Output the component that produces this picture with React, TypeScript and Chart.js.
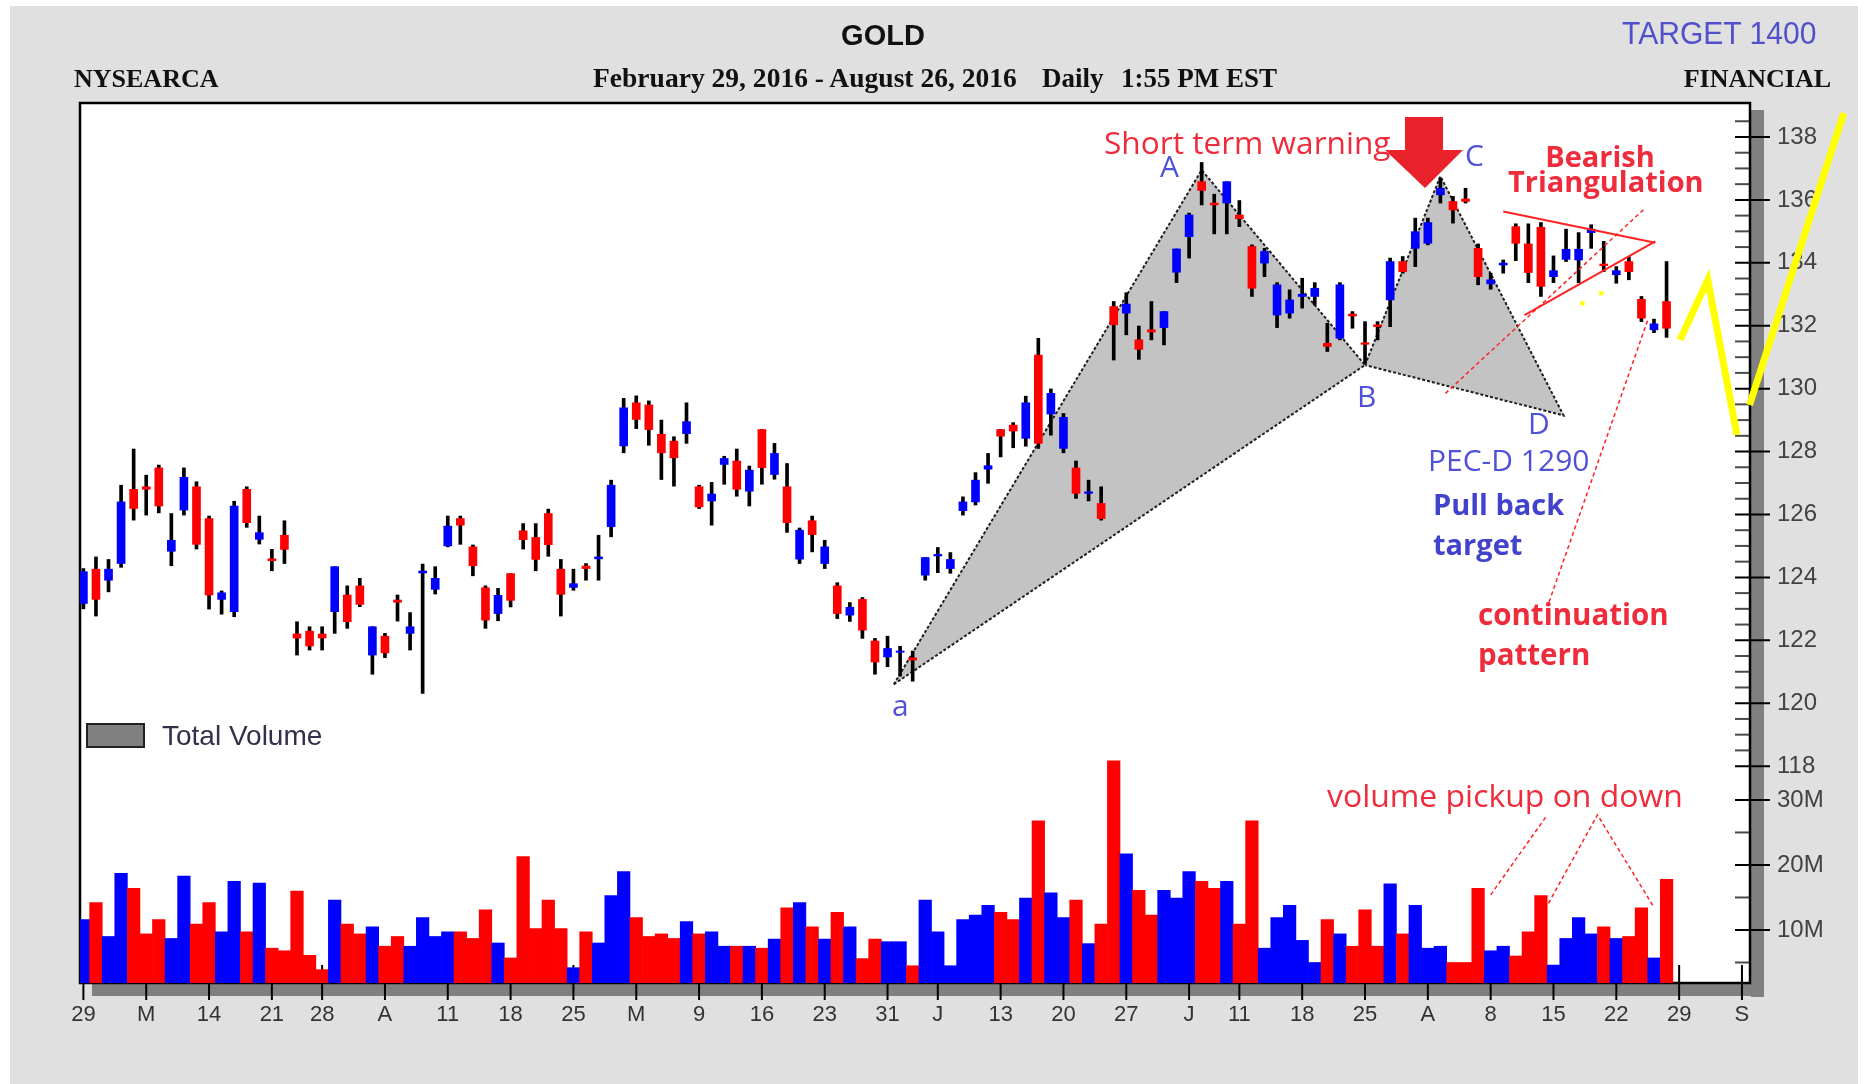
import React, { useEffect, useRef } from "react";
import { Chart, registerables } from "chart.js";

Chart.register(...registerables);

const W = 1868;
const H = 1084;

// ---- daily candles (Feb 29 .. Aug 26, 2016), index = trading day ----
const opens = [
  123.17, 124.26, 123.91, 124.44, 126.8, 126.88, 127.48, 124.83, 126.14, 126.88,
  125.87, 123.3, 122.91, 126.8, 125.21, 124.59, 125.34, 122.2, 122.29, 122.2,
  122.91, 123.44, 123.73, 121.53, 122.13, 123.28, 122.22, 124.14, 123.62, 125.0,
  125.87, 124.97, 123.67, 122.85, 124.12, 125.48, 125.27, 126.03, 124.26, 123.68,
  124.36, 124.59, 125.61, 128.18, 129.55, 129.48, 128.55, 128.33, 128.57, 126.88,
  126.43, 127.59, 127.7, 126.74, 128.7, 127.27, 126.88, 124.58, 125.8, 124.44,
  123.73, 122.8, 123.3, 121.98, 121.47, 121.62, 121.44, 124.07, 124.68, 124.28,
  126.12, 126.4, 127.44, 128.7, 128.84, 128.42, 131.07, 129.19, 128.1, 127.48,
  126.67, 126.35, 132.61, 132.4, 131.55, 131.87, 131.94, 133.7, 134.83, 136.58,
  135.9, 135.9, 135.52, 134.52, 133.99, 132.34, 132.4, 132.93, 132.93, 131.44,
  131.6, 132.37, 131.46, 132.03, 132.82, 134.04, 134.46, 134.62, 136.16, 135.95,
  136.03, 134.46, 133.33, 133.93, 135.15, 134.6, 135.13, 133.56, 134.11, 134.09,
  134.96, 133.96, 133.62, 134.04, 132.84, 131.87, 132.77,
];
const highs = [
  124.28, 124.65, 124.57, 126.93, 128.08, 127.25, 127.57, 126.03, 127.48, 127.04,
  125.95, 123.57, 126.42, 126.88, 125.95, 124.89, 125.8, 122.59, 122.43, 122.43,
  124.34, 123.73, 123.97, 122.43, 122.22, 123.44, 122.88, 124.42, 124.34, 125.95,
  125.95, 125.03, 123.73, 123.65, 124.12, 125.71, 125.71, 126.17, 124.57, 124.26,
  124.44, 125.34, 127.09, 129.69, 129.77, 129.61, 129.0, 128.47, 129.55, 126.93,
  127.02, 127.85, 128.08, 127.54, 128.7, 128.26, 127.62, 125.57, 125.95, 125.18,
  123.83, 123.2, 123.36, 122.06, 122.13, 121.81, 121.66, 124.63, 124.95, 124.79,
  126.56, 127.33, 127.94, 128.7, 128.92, 129.76, 131.6, 129.99, 129.21, 127.7,
  127.09, 126.88, 132.77, 133.05, 131.99, 132.77, 132.45, 134.44, 135.58, 137.19,
  136.18, 136.58, 135.98, 134.57, 134.46, 133.37, 133.14, 133.51, 133.37, 132.08,
  133.37, 132.45, 132.13, 132.13, 134.15, 134.2, 135.42, 135.42, 136.69, 136.11,
  136.37, 134.6, 133.67, 134.09, 135.24, 135.24, 135.28, 134.22, 135.07, 134.96,
  135.21, 134.68, 133.88, 134.2, 132.93, 132.21, 134.04,
];
const lows = [
  123.0, 122.77, 123.54, 124.32, 125.82, 125.98, 126.05, 124.37, 125.98, 124.9,
  122.99, 122.83, 122.75, 125.59, 125.06, 124.21, 124.44, 121.53, 121.69, 121.69,
  122.22, 122.38, 123.07, 120.92, 121.45, 122.61, 121.69, 120.31, 123.47, 124.97,
  125.05, 124.05, 122.38, 122.62, 123.06, 124.9, 124.21, 124.67, 122.77, 123.59,
  123.91, 123.91, 125.29, 127.96, 128.73, 128.2, 127.11, 126.9, 128.26, 126.19,
  125.66, 126.96, 126.58, 126.27, 126.96, 127.12, 125.43, 124.44, 124.81, 124.28,
  122.69, 122.6, 122.06, 120.92, 121.16, 120.86, 120.7, 123.91, 124.15, 124.13,
  125.98, 126.3, 126.99, 127.83, 128.12, 128.17, 128.1, 128.52, 127.96, 126.51,
  126.43, 125.82, 130.91, 131.71, 130.93, 131.55, 131.39, 133.37, 134.15, 135.84,
  134.92, 134.92, 135.15, 132.93, 133.56, 131.94, 132.24, 132.56, 132.66, 131.18,
  131.55, 131.92, 130.81, 131.55, 131.97, 133.67, 133.88, 134.57, 135.9, 135.26,
  135.9, 133.3, 133.16, 133.67, 134.07, 133.37, 132.93, 133.37, 134.04, 133.37,
  134.46, 133.72, 133.35, 133.46, 132.13, 131.78, 131.63,
];
const closes = [
  124.18, 123.3, 124.26, 126.4, 126.19, 126.8, 126.27, 125.18, 127.18, 125.05,
  123.44, 123.51, 126.27, 125.74, 125.42, 124.53, 124.89, 122.07, 121.82, 122.07,
  124.34, 122.59, 123.14, 122.43, 121.6, 123.21, 122.43, 124.2, 123.97, 125.63,
  125.66, 124.37, 122.64, 123.43, 123.27, 125.2, 124.57, 125.04, 123.46, 123.8,
  124.28, 124.65, 126.93, 129.39, 129.02, 128.7, 127.96, 127.8, 128.95, 126.24,
  126.65, 127.78, 126.8, 127.41, 127.49, 127.94, 125.74, 125.5, 125.36, 124.97,
  122.85, 123.05, 122.32, 121.31, 121.74, 121.66, 121.37, 124.63, 124.73, 124.57,
  126.4, 127.09, 127.55, 128.49, 128.65, 129.55, 128.26, 129.85, 129.09, 126.67,
  126.72, 125.87, 132.03, 132.69, 131.25, 131.8, 132.45, 134.44, 135.52, 136.3,
  135.84, 136.58, 135.4, 133.19, 134.36, 133.3, 132.82, 133.0, 133.19, 131.34,
  133.3, 132.31, 131.41, 131.97, 134.04, 133.72, 134.99, 135.28, 136.37, 135.68,
  135.95, 133.56, 133.46, 133.99, 134.62, 133.69, 133.25, 133.75, 134.43, 134.43,
  135.07, 133.91, 133.75, 133.72, 132.24, 132.06, 131.92,
];
// total volume, millions of shares
const volumesM = [
  11.6, 14.2, 9.0, 18.7, 16.4, 9.4, 11.6, 8.7, 18.3, 10.9,
  14.2, 9.7, 17.5, 9.7, 17.2, 7.2, 6.8, 16.0, 6.1, 3.9,
  14.6, 10.9, 9.4, 10.5, 7.5, 9.0, 7.5, 11.9, 9.0, 9.7,
  9.7, 8.7, 13.1, 8.0, 5.7, 21.3, 10.2, 14.6, 10.2, 4.2,
  9.7, 8.0, 15.3, 19.0, 11.9, 9.0, 9.4, 8.7, 11.3, 9.4,
  9.7, 7.5, 7.5, 7.5, 7.2, 8.6, 13.4, 14.2, 10.5, 8.6,
  12.7, 10.5, 5.6, 8.6, 8.2, 8.2, 4.5, 14.6, 9.7, 4.5,
  11.6, 12.3, 13.8, 12.7, 11.6, 14.9, 26.8, 15.7, 11.9, 14.6,
  7.9, 10.9, 36.0, 21.7, 16.1, 12.3, 16.1, 14.9, 19.0, 17.5,
  16.4, 17.5, 10.9, 26.8, 7.2, 11.9, 13.8, 8.4, 5.0, 11.6,
  9.4, 7.5, 13.1, 7.5, 17.1, 9.4, 13.8, 7.2, 7.5, 5.0,
  5.0, 16.4, 6.8, 7.5, 6.0, 9.7, 15.3, 4.6, 8.7, 11.9,
  9.4, 10.5, 8.7, 9.0, 13.4, 5.7, 17.8,
];

// ---- axes ----
const xTickIndex = [0, 5, 10, 15, 19, 24, 29, 34, 39, 44, 49, 54, 59, 64, 68, 73, 78, 83, 88, 92, 97, 102, 107, 112, 117, 122, 127, 132];
const xTickLabels = ["29", "M", "14", "21", "28", "A", "11", "18", "25", "M", "9", "16", "23", "31", "J", "13", "20", "27", "J", "11", "18", "25", "A", "8", "15", "22", "29", "S"];
const priceTicks = [118, 120, 122, 124, 126, 128, 130, 132, 134, 136, 138];
const volumeTicks = [10, 20, 30];

// ---- drawn pattern / annotation lines (x = trading-day index, y = price or volume) ----
const patternAx = [64.5, 89, 102, 64.5];
const patternAy = [120.6, 136.95, 130.75, 120.6];
const patternCx = [102, 108, 117.8, 102];
const patternCy = [130.75, 136.75, 129.15, 130.75];
const triUpperX = [113.0, 125.1];
const triUpperY = [135.63, 134.64];
const triLowerX = [114.7, 125.1];
const triLowerY = [132.34, 134.68];
const triGuideX = [108.4, 124.3];
const triGuideY = [129.85, 135.74];
const contPointerX = [116.65, 124.5];
const contPointerY = [123.22, 132.18];
const volPointerAX = [112.0, 116.4];
const volPointerAY = [15.4, 27.4];
const volPointerBX = [116.6, 120.5, 124.9];
const volPointerBY = [14.1, 27.7, 13.8];
const yellowVX = [127.07, 129.28, 131.6];
const yellowVY = [131.55, 133.46, 128.53];
const yellowUpX = [132.6, 140.1];
const yellowUpY = [129.48, 138.76];
const yellowDotX = [119.3, 120.8];
const yellowDotY = [132.71, 133.03];

const UP = "#0000ff";
const DOWN = "#ff0000";
const SANS = "'Liberation Sans', Arial, Helvetica, sans-serif";
const SERIF = "'Liberation Serif', 'Times New Roman', serif";
const OPEN = "'Open Sans', 'Noto Sans', sans-serif";
const RED_TXT = "#ee2c3c";
const BLUE_TXT = "#5050d8";

const pts = (xs: number[], ys: number[]) => xs.map((x, i) => ({ x, y: ys[i] }));

const framePlugin = {
  id: "frame",
  beforeDraw(chart: any) {
    const { ctx, chartArea: ca } = chart;
    ctx.save();
    ctx.fillStyle = "#ffffff";
    ctx.fillRect(0, 0, W, H);
    ctx.fillStyle = "#e0e0e0";
    ctx.fillRect(10, 6, W - 20, H - 6);
    ctx.fillStyle = "#808080";
    ctx.fillRect(ca.right + 1, ca.top + 7, 13, ca.bottom - ca.top + 7);
    ctx.fillRect(ca.left + 12, ca.bottom + 1, ca.right - ca.left + 2, 12);
    ctx.fillStyle = "#ffffff";
    ctx.fillRect(ca.left, ca.top, ca.right - ca.left, ca.bottom - ca.top);
    ctx.restore();
  },
  beforeDatasetsDraw(chart: any) {
    const { ctx, chartArea: ca, scales } = chart;
    const yS = scales.y;
    const vS = scales.yVol;
    const xS = scales.x;
    const seg = (x1: number, y1: number, x2: number, y2: number) => {
      ctx.beginPath();
      ctx.moveTo(x1, y1);
      ctx.lineTo(x2, y2);
      ctx.stroke();
    };
    ctx.save();
    // price ticks: major every 2, minor every 0.5
    for (let k = 236; k <= 277; k++) {
      const v = k / 2;
      const py = yS.getPixelForValue(v);
      const major = k % 4 === 0;
      ctx.strokeStyle = major ? "#000" : "#4a4a4a";
      ctx.lineWidth = 2;
      seg(ca.right - 15, py, major ? ca.right + 20 : ca.right, py);
    }
    // volume ticks
    for (let v = 5; v <= 30; v += 5) {
      const py = vS.getPixelForValue(v);
      const major = v % 10 === 0;
      ctx.strokeStyle = major ? "#000" : "#4a4a4a";
      ctx.lineWidth = 2;
      seg(ca.right - 15, py, major ? ca.right + 20 : ca.right, py);
    }
    // x ticks
    ctx.strokeStyle = "#000";
    ctx.lineWidth = 2;
    xTickIndex.forEach((i) => {
      const px = xS.getPixelForValue(i);
      seg(px, ca.bottom - 18, px, ca.bottom + 17);
    });
    // frame
    ctx.lineWidth = 2.5;
    ctx.strokeStyle = "#000";
    ctx.strokeRect(ca.left, ca.top, ca.right - ca.left, ca.bottom - ca.top);
    ctx.restore();
  },
};

type TxtProps = {
  x: number;
  y: number;
  size: number;
  family: string;
  weight?: number;
  color: string;
  align?: "left" | "center" | "right";
  text: string;
  sx?: number;
};

function Txt({ x, y, size, family, weight = 400, color, align = "left", text, sx = 1 }: TxtProps) {
  const k = family === OPEN ? 0.888 : family === SERIF ? 0.8375 : 0.8465;
  const style: React.CSSProperties = {
    position: "absolute",
    top: y - k * size,
    lineHeight: `${size}px`,
    fontSize: size,
    fontFamily: family,
    fontWeight: weight,
    color,
    whiteSpace: "pre",
    margin: 0,
  };
  if (align === "left") {
    style.left = x;
    style.transformOrigin = "left center";
    if (sx !== 1) style.transform = `scaleX(${sx})`;
  } else if (align === "right") {
    style.right = W - x;
    style.transformOrigin = "right center";
    if (sx !== 1) style.transform = `scaleX(${sx})`;
  } else {
    style.left = x;
    style.transform = `translateX(-50%)` + (sx !== 1 ? ` scaleX(${sx})` : "");
  }
  return <div style={style}>{text}</div>;
}

export default function App() {
  const ref = useRef<HTMLCanvasElement>(null);

  useEffect(() => {
    document.body.style.margin = "0";
    document.body.style.overflow = "hidden";
    const dir = closes.map((c, i) => (c >= opens[i] ? UP : DOWN));

    const datasets: any[] = [
      {
        type: "line",
        data: pts(patternAx, patternAy),
        yAxisID: "y",
        borderColor: "#1e1e1e",
        borderWidth: 2,
        borderDash: [3, 2],
        backgroundColor: "#c3c3c3",
        fill: "shape",
        pointRadius: 0,
        tension: 0,
        order: 20,
      },
      {
        type: "line",
        data: pts(patternCx, patternCy),
        yAxisID: "y",
        borderColor: "#1e1e1e",
        borderWidth: 2,
        borderDash: [3, 2],
        backgroundColor: "#c3c3c3",
        fill: "shape",
        pointRadius: 0,
        tension: 0,
        order: 19,
      },
      {
        type: "bar",
        data: volumesM.map((v, i) => ({ x: i, y: v })),
        yAxisID: "yVol",
        backgroundColor: dir,
        barThickness: 12.57,
        grouped: false,
        clip: { left: 0, right: 0, top: false, bottom: 0 },
        order: 15,
      },
      {
        type: "bar",
        data: lows.map((l, i) => ({ x: i, y: [l, highs[i]] })),
        yAxisID: "y",
        backgroundColor: "#000000",
        barThickness: 3,
        grouped: false,
        order: 12,
      },
      {
        type: "bar",
        data: opens.map((o, i) => ({ x: i, y: [o, closes[i]] })),
        yAxisID: "y",
        backgroundColor: dir,
        barThickness: 8,
        grouped: false,
        order: 11,
      },
    ];
    const redLine = (xs: number[], ys: number[], axis: string, dash: number[], width: number) => ({
      type: "line",
      data: pts(xs, ys),
      yAxisID: axis,
      borderColor: "#ff2222",
      borderWidth: width,
      borderDash: dash,
      fill: false,
      pointRadius: 0,
      tension: 0,
      clip: false,
      order: 5,
    });
    datasets.push(redLine(triUpperX, triUpperY, "y", [], 2));
    datasets.push(redLine(triLowerX, triLowerY, "y", [], 2));
    datasets.push(redLine(triGuideX, triGuideY, "y", [4, 3], 1.5));
    datasets.push(redLine(contPointerX, contPointerY, "y", [4, 3], 1.5));
    datasets.push(redLine(volPointerAX, volPointerAY, "yVol", [4, 3], 1.5));
    datasets.push(redLine(volPointerBX, volPointerBY, "yVol", [4, 3], 1.5));
    const yellow = (xs: number[], ys: number[]) => ({
      type: "line",
      data: pts(xs, ys),
      yAxisID: "y",
      borderColor: "#ffff00",
      borderWidth: 7,
      fill: false,
      pointRadius: 0,
      tension: 0,
      clip: false,
      order: 2,
    });
    datasets.push(yellow(yellowVX, yellowVY));
    datasets.push(yellow(yellowUpX, yellowUpY));
    datasets.push({
      type: "line",
      data: pts(yellowDotX, yellowDotY),
      yAxisID: "y",
      showLine: false,
      pointStyle: "rect",
      pointRadius: 3,
      pointBackgroundColor: "#ffff00",
      pointBorderWidth: 0,
      order: 2,
    });

    const chart = new Chart(ref.current as HTMLCanvasElement, {
      type: "bar",
      data: { datasets },
      options: {
        responsive: false,
        animation: false,
        devicePixelRatio: 1,
        events: [],
        layout: { padding: { left: 80, top: 103, right: 0, bottom: 0 } },
        plugins: { legend: { display: false }, tooltip: { enabled: false } },
        scales: {
          x: {
            type: "linear",
            min: -0.27,
            max: 132.64,
            offset: false,
            grid: { display: false, drawTicks: false },
            border: { display: false },
            afterBuildTicks: (s: any) => {
              s.ticks = xTickIndex.map((v) => ({ value: v }));
            },
            afterFit: (s: any) => {
              s.height = 101;
            },
            ticks: {
              autoSkip: false,
              maxRotation: 0,
              minRotation: 0,
              padding: 19,
              color: "#333333",
              font: { family: SANS, size: 22 },
              callback: (_v: any, i: number) => xTickLabels[i] ?? "",
            },
          },
          y: {
            type: "linear",
            position: "right",
            stack: "right",
            stackWeight: 682,
            min: 117.4,
            max: 139.08,
            grid: { display: false, drawTicks: false },
            border: { display: false },
            afterBuildTicks: (s: any) => {
              s.ticks = priceTicks.map((v) => ({ value: v }));
            },
            afterFit: (s: any) => {
              s.width = 118;
            },
            ticks: {
              padding: 27,
              color: "#424242",
              font: { family: SANS, size: 24 },
              callback: (v: any) => String(v),
            },
          },
          yVol: {
            type: "linear",
            position: "right",
            stack: "right",
            stackWeight: 198,
            min: 1.846,
            max: 32.3,
            beginAtZero: false,
            grid: { display: false, drawTicks: false },
            border: { display: false },
            afterBuildTicks: (s: any) => {
              s.ticks = volumeTicks.map((v) => ({ value: v }));
            },
            afterFit: (s: any) => {
              s.width = 118;
            },
            ticks: {
              padding: 27,
              color: "#424242",
              font: { family: SANS, size: 24 },
              callback: (v: any) => `${v}M`,
            },
          },
        },
      } as any,
      plugins: [framePlugin],
    });
    return () => chart.destroy();
  }, []);

  return (
    <div style={{ position: "absolute", left: 0, top: 0, width: W, height: H, overflow: "hidden" }}>
      <canvas ref={ref} width={W} height={H} style={{ position: "absolute", left: 0, top: 0, width: W, height: H }} />
      {/* header */}
      <Txt x={883} y={46} size={29} family={SANS} weight={700} color="#111" align="center" text="GOLD" />
      <Txt x={1622} y={44} size={31} family={SANS} color="#5050cc" text="TARGET 1400" sx={0.97} />
      <Txt x={74} y={88} size={26} family={SERIF} weight={700} color="#111" text="NYSEARCA" />
      <Txt x={593} y={88} size={27} family={SERIF} weight={700} color="#111" text="February 29, 2016 - August 26, 2016" sx={1.02} />
      <Txt x={1042} y={88} size={27} family={SERIF} weight={700} color="#111" text="Daily" />
      <Txt x={1121} y={88} size={27} family={SERIF} weight={700} color="#111" text="1:55 PM EST" />
      <Txt x={1831} y={88} size={26} family={SERIF} weight={700} color="#111" align="right" text="FINANCIAL" />
      {/* legend */}
      <div style={{ position: "absolute", left: 86, top: 723, width: 59, height: 25, background: "#808080", border: "2px solid #222", boxSizing: "border-box" }} />
      <Txt x={162} y={746} size={28} family={SANS} color="#30304a" text="Total Volume" />
      {/* annotations */}
      <Txt x={1104} y={155} size={31} family={OPEN} color={RED_TXT} text="Short term warning" sx={1.02} />
      <Txt x={1160} y={178} size={30} family={OPEN} color={BLUE_TXT} text="A" />
      <Txt x={1357} y={408} size={30} family={OPEN} color={BLUE_TXT} text="B" />
      <Txt x={1465} y={167} size={30} family={OPEN} color={BLUE_TXT} text="C" />
      <Txt x={1528} y={435} size={30} family={OPEN} color={BLUE_TXT} text="D" />
      <Txt x={892} y={717} size={30} family={OPEN} color={BLUE_TXT} text="a" />
      <Txt x={1428} y={472} size={30} family={OPEN} color={BLUE_TXT} text="PEC-D 1290" />
      <Txt x={1433} y={515} size={29} family={OPEN} weight={700} color="#4242cc" text="Pull back" />
      <Txt x={1433} y={555} size={29} family={OPEN} weight={700} color="#4242cc" text="target" />
      <Txt x={1478} y={625} size={29.5} family={OPEN} weight={700} color={RED_TXT} text="continuation" />
      <Txt x={1478} y={665} size={29.5} family={OPEN} weight={700} color={RED_TXT} text="pattern" />
      <Txt x={1600} y={167} size={29} family={OPEN} weight={700} color={RED_TXT} align="center" text="Bearish" />
      <Txt x={1508} y={192} size={29} family={OPEN} weight={700} color={RED_TXT} text="Triangulation" />
      <Txt x={1327} y={808} size={31} family={OPEN} color={RED_TXT} text="volume pickup on down" sx={1.03} />
      <svg width={W} height={H} style={{ position: "absolute", left: 0, top: 0, pointerEvents: "none" }}>
        <polygon points="1405,117 1443,117 1443,150 1463,150 1425,188 1385,150 1405,150" fill="#e8212b" />
      </svg>
    </div>
  );
}
